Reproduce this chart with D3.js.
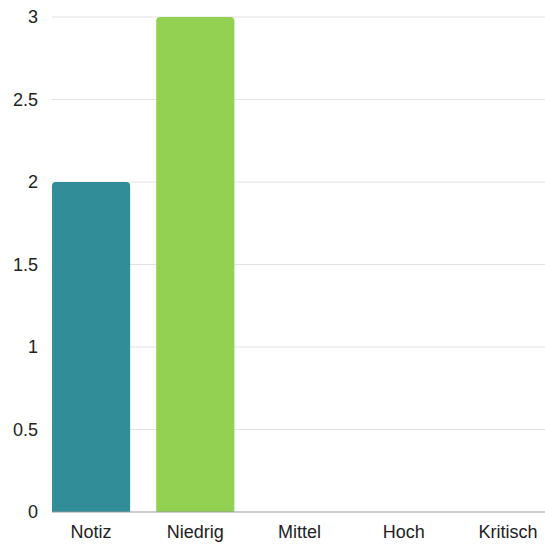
<!DOCTYPE html>
<html lang="de">
<head>
<meta charset="UTF-8">
<title>Prioritäten</title>
<script src="https://d3js.org/d3.v7.min.js"></script>
<style>
    body { margin: 0; background: #fff; font-family: "Liberation Sans", Arial, sans-serif; }
    .grid line { stroke: #e2e2e2; }
    .tick text { fill: #222; font-size: 18px; }
</style>
</head>
<body>
<svg width="545" height="544"></svg>
<script>
    // Daten
    const categories = ["Notiz", "Niedrig", "Mittel", "Hoch", "Kritisch"];
    const values = [2, 3, 0, 0, 0];
    const colors = ["#318e98", "#93d152", "#f2b134", "#ed7d31", "#d9534f"];
    const yTicks = [0, 0.5, 1, 1.5, 2, 2.5, 3];

    const svg = d3.select("svg"),
        margin = { top: 17, right: 0, bottom: 32, left: 52 },
        width = +svg.attr("width") - margin.left - margin.right,
        height = +svg.attr("height") - margin.top - margin.bottom;

    const g = svg.append("g").attr("transform", `translate(${margin.left},${margin.top})`);

    const x = d3.scaleBand()
        .domain(categories)
        .range([0, width + 2])
        .paddingInner(0.25)
        .paddingOuter(0);

    const y = d3.scaleLinear()
        .domain([0, 3])
        .range([height, 0]);

    // Gitterlinien
    g.append("g")
        .attr("class", "grid")
        .selectAll("line")
        .data(yTicks.filter(d => d > 0))
        .enter().append("line")
        .attr("x1", 0).attr("x2", width)
        .attr("y1", d => y(d)).attr("y2", d => y(d));

    // Balken mit abgerundeten oberen Ecken
    const r = 4;
    g.selectAll(".bar")
        .data(categories.map((c, i) => ({ c, v: values[i], col: colors[i] })).filter(d => d.v > 0))
        .enter().append("path")
        .attr("class", "bar")
        .attr("fill", d => d.col)
        .attr("d", d => {
            const x0 = x(d.c), x1 = x0 + x.bandwidth(), y0 = y(d.v), yb = y(0);
            return `M${x0},${yb}V${y0 + r}Q${x0},${y0} ${x0 + r},${y0}H${x1 - r}Q${x1},${y0} ${x1},${y0 + r}V${yb}Z`;
        });

    // Y-Achse
    g.append("g")
        .call(d3.axisLeft(y).tickValues(yTicks).tickSize(0).tickPadding(14).tickFormat(d => d))
        .call(a => a.select(".domain").remove());

    // X-Achse
    g.append("g")
        .attr("transform", `translate(0,${height})`)
        .call(d3.axisBottom(x).tickSize(0).tickPadding(13))
        .call(a => a.select(".domain").remove());

    g.append("line")
        .attr("x1", 0).attr("x2", width)
        .attr("y1", y(0)).attr("y2", y(0))
        .attr("stroke", "#9a9a9a");
</script>
</body>
</html>
